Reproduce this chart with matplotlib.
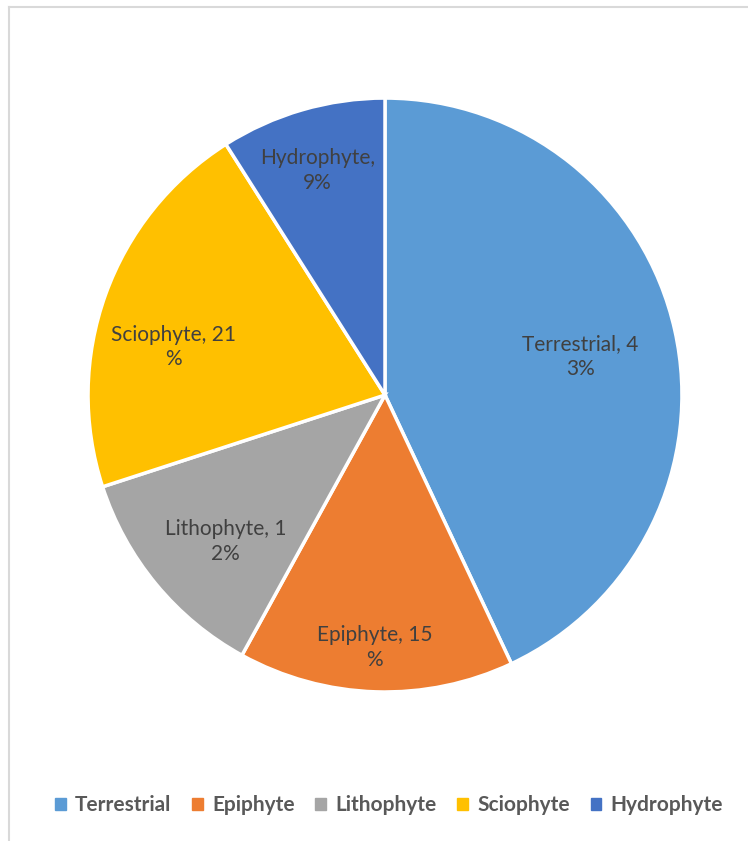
import matplotlib.pyplot as plt
import numpy as np
from matplotlib.patches import Rectangle
from matplotlib.lines import Line2D

categories = ['Terrestrial', 'Epiphyte', 'Lithophyte', 'Sciophyte', 'Hydrophyte']
values = [43, 15, 12, 21, 9]
labels = ['Terrestrial, 4\n3%', 'Epiphyte, 15\n%', 'Lithophyte, 1\n2%', 'Sciophyte, 21\n%', 'Hydrophyte,\n9%']
colors = ['#5b9bd5', '#ed7d31', '#a5a5a5', '#ffc000', '#4472c4']
# label distance from centre (fraction of radius) and angle offset, picked by eye
label_r = [0.67, 0.85, 0.73, 0.73, 0.79]
label_off = [-1.5, -0.5, 3, 7, 0.5]

plt.rcParams['font.family'] = ['Lato', 'DejaVu Sans']

fig = plt.figure(figsize=(7.48, 8.41), dpi=100)

# light frame like the chart area border
fig.add_artist(Line2D([9 / 748, 9 / 748], [0, 1 - 7 / 841], color='#d9d9d9', lw=1.5))
fig.add_artist(Line2D([9 / 748, 1], [1 - 7 / 841, 1 - 7 / 841], color='#d9d9d9', lw=1.5))

ax = fig.add_axes([0.5147 - 0.397, 0.5303 - 0.3532, 0.794, 0.7064])
wedges, _ = ax.pie(values, colors=colors, startangle=90, counterclock=False,
                   wedgeprops=dict(edgecolor='white', linewidth=2.5))
ax.set_xlim(-1, 1)
ax.set_ylim(-1, 1)
ax.set_aspect('equal')

for w, lab, r, off in zip(wedges, labels, label_r, label_off):
    ang = np.deg2rad((w.theta1 + w.theta2) / 2 + off)
    ax.text(r * np.cos(ang), r * np.sin(ang), lab, ha='center', va='center',
            fontsize=15, color='#404040', linespacing=1.3)

handles = [Rectangle((0, 0), 1, 1, color=c) for c in colors]
leg = fig.legend(handles, categories, loc='center', bbox_to_anchor=(0.52, 1 - 805 / 841),
                 ncol=5, frameon=False, handlelength=0.5, handleheight=0.5,
                 handletextpad=0.45, columnspacing=1.0,
                 prop=dict(family='Lato', weight='bold', size=15))
for t in leg.get_texts():
    t.set_color('#595959')

fig.savefig('out.png', dpi=100)
